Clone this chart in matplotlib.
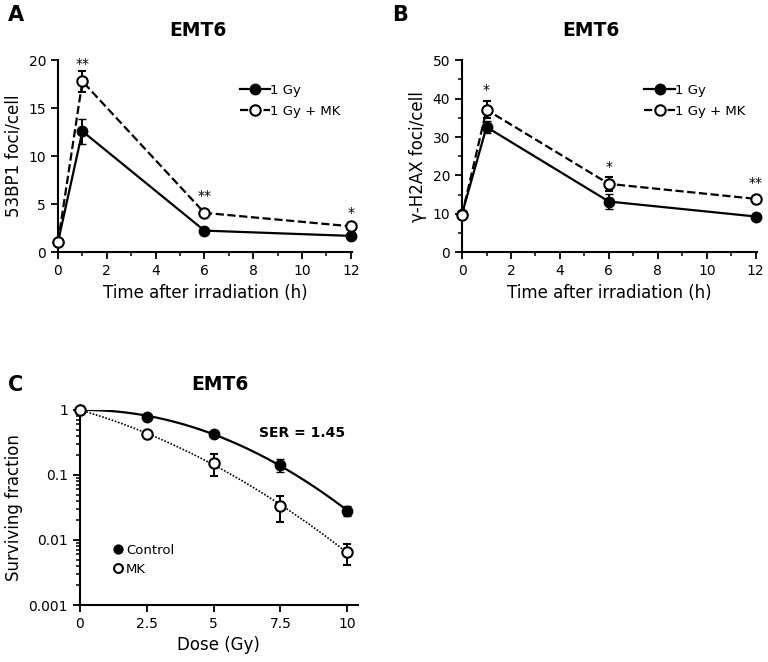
import numpy as np
import matplotlib; matplotlib.use("Agg"); import matplotlib.pyplot as plt
from matplotlib.ticker import MultipleLocator, LogLocator, FixedLocator

plt.rcParams["font.family"] = ["DejaVu Sans"]

# --- panel A: 53BP1 foci ---
T = [0, 1, 6, 12]
A_GY = [1.05, 12.6, 2.25, 1.7]
A_GY_ERR = [0.2, 1.3, 0.2, 0.2]
A_MK = [1.05, 17.8, 4.1, 2.7]
A_MK_ERR = [0.2, 1.1, 0.3, 0.3]
A_STARS = [(1, 19.6, "**"), (6, 5.9, "**"), (12, 4.1, "*")]

# --- panel B: gamma-H2AX foci ---
B_GY = [10.0, 32.6, 13.2, 9.3]
B_GY_ERR = [0.5, 1.5, 2.0, 0.5]
B_MK = [9.7, 37.1, 17.8, 13.9]
B_MK_ERR = [0.5, 2.2, 1.8, 0.6]
B_STARS = [(1, 42.3, "*"), (6, 22.2, "*"), (12, 18.0, "**")]

# --- panel C: clonogenic survival ---
DOSE = [0, 2.5, 5, 7.5, 10]
C_CTRL = [1.0, 0.79, 0.42, 0.144, 0.028]
C_CTRL_LO = [0.0, 0.03, 0.03, 0.031, 0.005]
C_CTRL_HI = [0.0, 0.03, 0.03, 0.032, 0.005]
C_MK = [1.0, 0.42, 0.155, 0.033, 0.0065]
C_MK_LO = [0.0, 0.03, 0.058, 0.0143, 0.0024]
C_MK_HI = [0.0, 0.03, 0.055, 0.015, 0.0023]


def style(ax):
    for s in ["top", "right"]:
        ax.spines[s].set_visible(False)
    for s in ["left", "bottom"]:
        ax.spines[s].set_linewidth(1.5)
    ax.tick_params(which="major", direction="out", length=5, width=1.3, labelsize=10)
    ax.tick_params(which="minor", direction="out", length=3, width=1.1)


def foci_panel(ax, gy, gy_err, mk, mk_err, stars, ylim, ymaj, ymin, ylabel):
    style(ax)
    ax.errorbar(T, gy, yerr=gy_err, fmt="-o", color="k", mfc="k", ms=7.5, lw=1.6,
                elinewidth=1.4, capsize=3, label="1 Gy", clip_on=False, zorder=3)
    ax.errorbar(T, mk, yerr=mk_err, fmt="--o", color="k", mfc="white", mew=1.5, ms=7.5,
                lw=1.6, elinewidth=1.4, capsize=3, label="1 Gy + MK", clip_on=False, zorder=4)
    for x, y, s in stars:
        ax.text(x, y, s, ha="center", va="center", fontsize=10)
    ax.set_xlim(0, 12.05); ax.set_ylim(*ylim)
    ax.xaxis.set_major_locator(MultipleLocator(2)); ax.xaxis.set_minor_locator(MultipleLocator(1))
    ax.yaxis.set_major_locator(MultipleLocator(ymaj))
    if ymin:
        ax.yaxis.set_minor_locator(MultipleLocator(ymin))
    ax.set_xlabel("Time after irradiation (h)", fontsize=12)
    ax.set_ylabel(ylabel, fontsize=12, labelpad=4)
    h, l = ax.get_legend_handles_labels()
    h = [x[0] for x in h]
    ax.legend(h, l, loc="upper right", bbox_to_anchor=(1.0, 0.94), frameon=False,
              fontsize=9.5, handlelength=2.3, handletextpad=0.0, labelspacing=0.6)


fig = plt.figure(figsize=(7.68, 6.62), dpi=100)
axA = fig.add_axes([0.0755, 0.619, 0.383, 0.290])
axB = fig.add_axes([0.6016, 0.619, 0.384, 0.290])
axC = fig.add_axes([0.104, 0.0861, 0.362, 0.2946])

foci_panel(axA, A_GY, A_GY_ERR, A_MK, A_MK_ERR, A_STARS, (0, 20), 5, None, "53BP1 foci/cell")
foci_panel(axB, B_GY, B_GY_ERR, B_MK, B_MK_ERR, B_STARS, (0, 50), 10, 5, "\u03b3-H2AX foci/cell")

# panel C: LQ fit of the survival data, ln S = -a D - b D^2
style(axC)
d = np.array(DOSE, float)
dd = np.linspace(0, 10, 200)
for sf, ls, lw in [(C_CTRL, "-", 1.6), (C_MK, (0, (1, 1)), 1.2)]:
    M = np.column_stack([-d, -d**2])
    ab = np.linalg.lstsq(M, np.log(sf), rcond=None)[0]
    axC.plot(dd, np.exp(-ab[0]*dd - ab[1]*dd**2), linestyle=ls, color="k", lw=lw, zorder=2)
axC.errorbar(DOSE, C_CTRL, yerr=[C_CTRL_LO, C_CTRL_HI], fmt="o", color="k", mfc="k", ms=7.5,
             elinewidth=1.4, capsize=3, label="Control", clip_on=False, zorder=3)
axC.errorbar(DOSE, C_MK, yerr=[C_MK_LO, C_MK_HI], fmt="o", color="k", mfc="white", mew=1.5,
             ms=7.5, elinewidth=1.4, capsize=3, label="MK", clip_on=False, zorder=4)
axC.set_yscale("log")
axC.set_ylim(0.001, 1); axC.set_xlim(0, 10.4)
axC.xaxis.set_major_locator(FixedLocator([0, 2.5, 5, 7.5, 10]))
axC.set_xticklabels(["0", "2.5", "5", "7.5", "10"])
axC.yaxis.set_major_locator(FixedLocator([0.001, 0.01, 0.1, 1]))
axC.set_yticklabels(["0.001", "0.01", "0.1", "1"])
axC.yaxis.set_minor_locator(LogLocator(base=10, subs=np.arange(2, 10)))
axC.yaxis.set_minor_formatter(plt.NullFormatter())
axC.set_xlabel("Dose (Gy)", fontsize=12)
axC.set_ylabel("Surviving fraction", fontsize=12)
axC.text(0.80, 0.88, "SER = 1.45", transform=axC.transAxes, fontsize=10,
         fontweight="bold", ha="center", va="center")
h, l = axC.get_legend_handles_labels()
h = [x[0] for x in h]
axC.legend(h, l, loc="lower left", bbox_to_anchor=(0.08, 0.09), frameon=False, fontsize=9.5,
           handlelength=0.6, handletextpad=0.3, labelspacing=0.45, markerscale=0.85)

# panel titles and letters (pixel positions from the figure layout)
W, H = 768, 662
for x, y in [(198, 30), (591, 30), (220, 384)]:
    fig.text(x / W, 1 - y / H, "EMT6", fontsize=13.5, fontweight="bold", ha="center", va="center")
for lbl, x, y in [("A", 8, 15), ("B", 392, 15), ("C", 8, 385)]:
    fig.text(x / W, 1 - y / H, lbl, fontsize=15, fontweight="bold", va="center", ha="left")

fig.savefig("out.png", dpi=100)
